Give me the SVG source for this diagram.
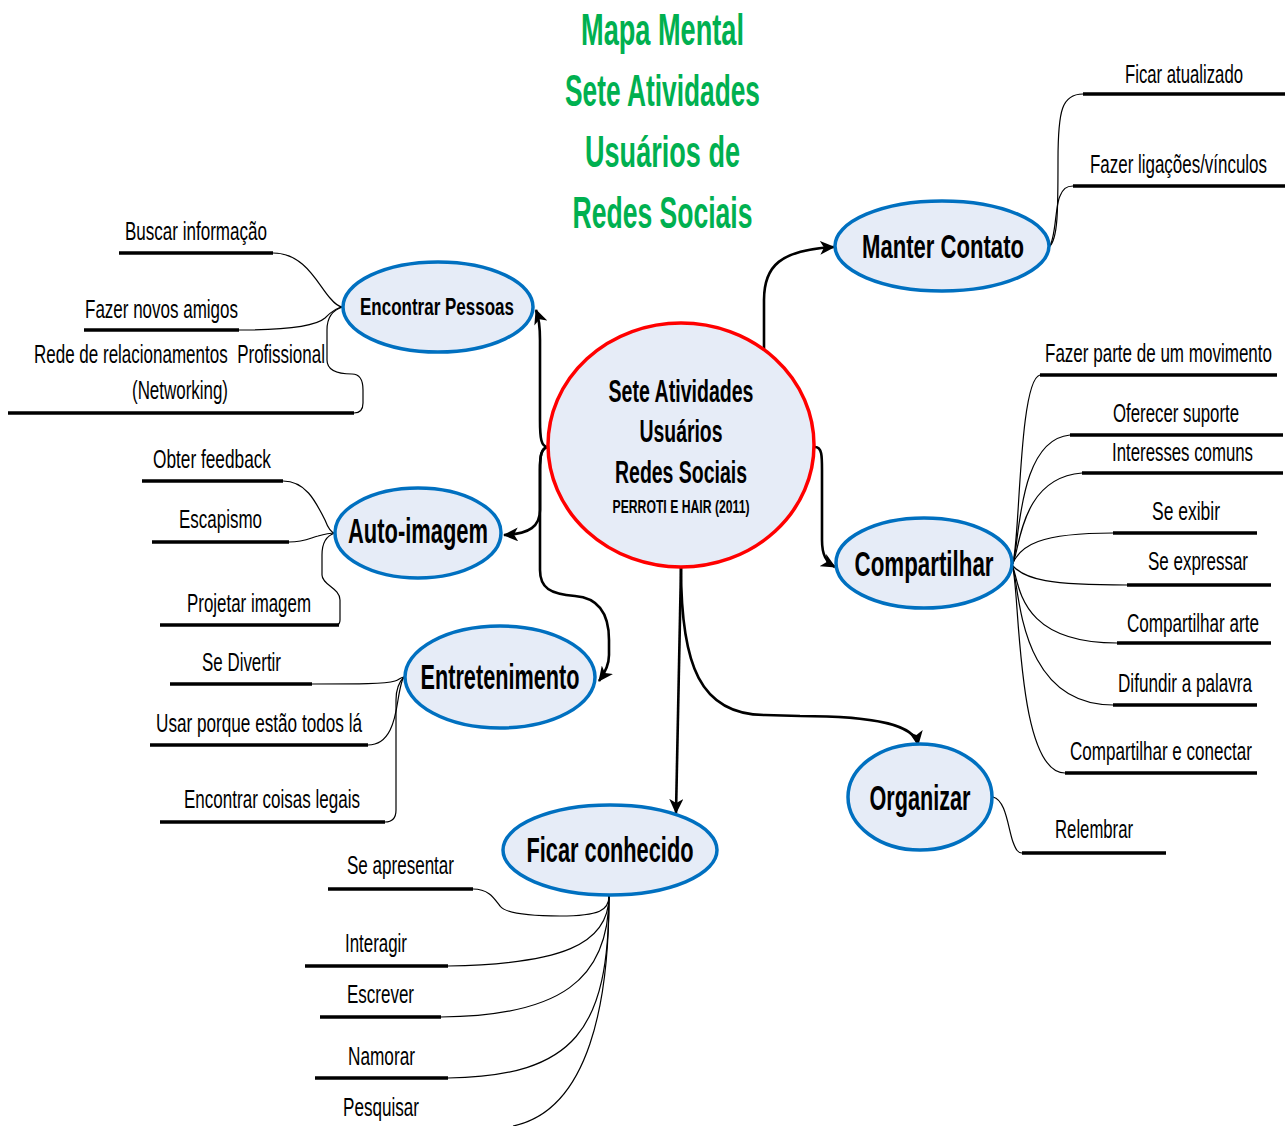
<svg xmlns="http://www.w3.org/2000/svg" width="1285" height="1126" viewBox="0 0 1285 1126">
  <defs>
    <style>
      .bg { fill: #ffffff; }
      .title { font-family: "Liberation Sans", Arial, sans-serif; font-weight: bold; font-size: 44px; fill: #00B050; }
      .hub { fill: #E6ECF7; stroke: #FF0000; stroke-width: 3.5; }
      .hubtxt { font-family: "Liberation Sans", Arial, sans-serif; font-weight: bold; fill: #000; }
      .topic { fill: #E6ECF7; stroke: #0070C0; stroke-width: 3.5; }
      .topictxt { font-family: "Liberation Sans", Arial, sans-serif; font-weight: bold; fill: #000; }
      .leaftxt { font-family: "Liberation Sans", Arial, sans-serif; font-size: 25px; fill: #000; white-space: pre; }
      .right { text-anchor: end; }
      .under { stroke: #000; stroke-width: 3.5; fill: none; }
      .main { stroke: #000; stroke-width: 2.6; fill: none; }
      .thin { stroke: #000; stroke-width: 1.2; fill: none; }
    </style>
    <marker id="arrow" markerUnits="userSpaceOnUse" markerWidth="16" markerHeight="14" refX="14" refY="7" orient="auto">
      <path d="M0,0 L15,7 L0,14 L4,7 z" fill="#000"/>
    </marker>
  </defs>

  <rect class="bg" x="0" y="0" width="1285" height="1126"/>

  <!-- heading -->
  <g id="title">
    <text class="title" x="662.5" y="45" text-anchor="middle" textLength="163" lengthAdjust="spacingAndGlyphs">Mapa Mental</text>
    <text class="title" x="662.5" y="106" text-anchor="middle" textLength="195" lengthAdjust="spacingAndGlyphs">Sete Atividades</text>
    <text class="title" x="662.5" y="167" text-anchor="middle" textLength="155" lengthAdjust="spacingAndGlyphs">Usuários de</text>
    <text class="title" x="662.5" y="228" text-anchor="middle" textLength="180" lengthAdjust="spacingAndGlyphs">Redes Sociais</text>
  </g>

  <!-- connectors -->
  <g id="connectors">
    <!-- hub to main topics -->
    <path class="main" marker-end="url(#arrow)" d="M548,447 C541,447 540,438 540,420 L540,340 C540,326 539,318 536,310"/>
    <path class="main" marker-end="url(#arrow)" d="M548,447 C541,448 540,456 540,470 L540,510 C540,526 530,534 504,535"/>
    <path class="main" marker-end="url(#arrow)" d="M548,447 C541,448 540,456 540,470 L540,570 C540,588 550,594 575,596 C600,598 609,615 609,640 L609,655 C609,665 605,673 599,681"/>
    <path class="main" marker-end="url(#arrow)" d="M764,349 L764,300 C764,266 780,250 834,247"/>
    <path class="main" marker-end="url(#arrow)" d="M815,447 C822,447 822,456 822,470 L822,540 C822,555 826,562 835,567"/>
    <path class="main" marker-end="url(#arrow)" d="M681,568 C681,665 700,715 765,715 L800,716 C880,716 915,726 918,745"/>
    <path class="main" marker-end="url(#arrow)" d="M681,568 L676,813"/>

    <!-- Encontrar Pessoas branches -->
    <path class="thin" d="M273,253 C305,253 318,285 330,298 C335,304 339,307 343,307"/>
    <path class="thin" d="M239,330 C290,330 316,326 325,318 C332,311 337,307 343,307"/>
    <path class="thin" d="M343,307 C332,310 327,318 327,330 L327,360 C327,372 340,374 352,374 C360,374 363,380 363,390 L363,403 C363,410 359,413 354,413"/>

    <!-- Auto-imagem branches -->
    <path class="thin" d="M283,481 C305,481 315,500 325,520 C328,528 332,533 335,533"/>
    <path class="thin" d="M289,542 C305,542 310,538 318,536 C325,534 330,533 335,533"/>
    <path class="thin" d="M335,533 C325,536 322,545 322,555 L322,575 C322,585 340,588 340,600 L340,620 C340,623 339,625 336,625"/>

    <!-- Entretenimento branches -->
    <path class="thin" d="M312,684 C360,684 385,684 395,681 C399,680 401,677 404,677"/>
    <path class="thin" d="M368,745 C390,745 395,720 398,700 C400,688 402,679 404,677"/>
    <path class="thin" d="M404,677 C398,683 396,690 396,700 L396,810 C396,818 392,822 385,822"/>

    <!-- Ficar conhecido branches -->
    <path class="thin" d="M473,889 C490,889 495,900 500,906 C506,914 530,916 560,916 C600,916 609,910 609,896"/>
    <path class="thin" d="M448,966 C560,964 609,945 609,896"/>
    <path class="thin" d="M441,1017 C560,1016 609,980 609,896"/>
    <path class="thin" d="M448,1078 C575,1076 609,1030 609,896"/>
    <path class="thin" d="M513,1126 C590,1110 609,1000 609,896"/>

    <!-- Organizar branch -->
    <path class="thin" d="M993,797 C1006,800 1008,828 1013,842 C1016,850 1018,853 1022,853"/>

    <!-- Manter Contato branches -->
    <path class="thin" d="M1049,247 C1058,240 1058,210 1058,160 C1058,110 1062,94 1083,94"/>
    <path class="thin" d="M1049,247 C1056,240 1055,205 1060,196 C1063,189 1066,186 1073,186"/>

    <!-- Compartilhar branches -->
    <path class="thin" d="M1012,565 C1020,555 1018,380 1040,375"/>
    <path class="thin" d="M1012,565 C1020,555 1015,440 1070,435"/>
    <path class="thin" d="M1012,565 C1020,555 1018,478 1082,473"/>
    <path class="thin" d="M1012,565 C1020,545 1040,533 1113,533"/>
    <path class="thin" d="M1012,565 C1025,580 1050,585 1127,585"/>
    <path class="thin" d="M1012,565 C1020,580 1015,643 1117,643"/>
    <path class="thin" d="M1012,565 C1020,580 1015,705 1113,705"/>
    <path class="thin" d="M1012,565 C1020,580 1015,773 1065,773"/>
  </g>

  <!-- central node -->
  <g id="hub">
    <ellipse class="hub" cx="681" cy="445" rx="133" ry="122"/>
    <text class="hubtxt" font-size="31" x="681" y="402" text-anchor="middle" textLength="145" lengthAdjust="spacingAndGlyphs">Sete Atividades</text>
    <text class="hubtxt" font-size="31" x="681" y="442" text-anchor="middle" textLength="83" lengthAdjust="spacingAndGlyphs">Usuários</text>
    <text class="hubtxt" font-size="31" x="681" y="483" text-anchor="middle" textLength="132" lengthAdjust="spacingAndGlyphs">Redes Sociais</text>
    <text class="hubtxt" font-size="18" x="681" y="513" text-anchor="middle" textLength="137" lengthAdjust="spacingAndGlyphs">PERROTI E HAIR (2011)</text>
  </g>

  <!-- main topics -->
  <g id="encontrar-pessoas">
    <ellipse class="topic" cx="438" cy="307" rx="95" ry="45"/>
    <text class="topictxt" font-size="24" x="437" y="315" text-anchor="middle" textLength="154" lengthAdjust="spacingAndGlyphs">Encontrar Pessoas</text>
  </g>
  <g id="auto-imagem">
    <ellipse class="topic" cx="418" cy="533" rx="83" ry="45"/>
    <text class="topictxt" font-size="35" x="418" y="543" text-anchor="middle" textLength="140" lengthAdjust="spacingAndGlyphs">Auto-imagem</text>
  </g>
  <g id="entretenimento">
    <ellipse class="topic" cx="500" cy="677" rx="95" ry="51"/>
    <text class="topictxt" font-size="35" x="500" y="689" text-anchor="middle" textLength="159" lengthAdjust="spacingAndGlyphs">Entretenimento</text>
  </g>
  <g id="ficar-conhecido">
    <ellipse class="topic" cx="610" cy="850" rx="107" ry="45"/>
    <text class="topictxt" font-size="35" x="610" y="862" text-anchor="middle" textLength="167" lengthAdjust="spacingAndGlyphs">Ficar conhecido</text>
  </g>
  <g id="manter-contato">
    <ellipse class="topic" cx="942" cy="246" rx="107" ry="45"/>
    <text class="topictxt" font-size="33" x="943" y="258" text-anchor="middle" textLength="162" lengthAdjust="spacingAndGlyphs">Manter Contato</text>
  </g>
  <g id="compartilhar">
    <ellipse class="topic" cx="924" cy="563" rx="88" ry="45"/>
    <text class="topictxt" font-size="35" x="924" y="576" text-anchor="middle" textLength="139" lengthAdjust="spacingAndGlyphs">Compartilhar</text>
  </g>
  <g id="organizar">
    <ellipse class="topic" cx="920" cy="797" rx="72" ry="53"/>
    <text class="topictxt" font-size="35" x="920" y="810" text-anchor="middle" textLength="101" lengthAdjust="spacingAndGlyphs">Organizar</text>
  </g>

  <!-- leaf items, left side -->
  <g id="buscar-informacao">
    <text class="leaftxt" x="125" y="240" textLength="142" lengthAdjust="spacingAndGlyphs">Buscar informação</text>
    <line class="under" x1="119" y1="253" x2="273" y2="253"/>
  </g>
  <g id="fazer-novos-amigos">
    <text class="leaftxt" x="85" y="318" textLength="153" lengthAdjust="spacingAndGlyphs">Fazer novos amigos</text>
    <line class="under" x1="84" y1="330" x2="239" y2="330"/>
  </g>
  <g id="rede-relacionamentos">
    <text class="leaftxt" x="34" y="363" textLength="291" lengthAdjust="spacingAndGlyphs">Rede de relacionamentos  Profissional</text>
    <text class="leaftxt" x="132" y="399" textLength="96" lengthAdjust="spacingAndGlyphs">(Networking)</text>
    <line class="under" x1="8" y1="413" x2="354" y2="413"/>
  </g>
  <g id="obter-feedback">
    <text class="leaftxt" x="153" y="468" textLength="118" lengthAdjust="spacingAndGlyphs">Obter feedback</text>
    <line class="under" x1="142" y1="481" x2="283" y2="481"/>
  </g>
  <g id="escapismo">
    <text class="leaftxt" x="179" y="528" textLength="83" lengthAdjust="spacingAndGlyphs">Escapismo</text>
    <line class="under" x1="152" y1="542" x2="289" y2="542"/>
  </g>
  <g id="projetar-imagem">
    <text class="leaftxt" x="187" y="612" textLength="124" lengthAdjust="spacingAndGlyphs">Projetar imagem</text>
    <line class="under" x1="160" y1="625" x2="339" y2="625"/>
  </g>
  <g id="se-divertir">
    <text class="leaftxt" x="202" y="671" textLength="79" lengthAdjust="spacingAndGlyphs">Se Divertir</text>
    <line class="under" x1="170" y1="684" x2="312" y2="684"/>
  </g>
  <g id="usar-porque">
    <text class="leaftxt" x="156" y="732" textLength="206" lengthAdjust="spacingAndGlyphs">Usar porque estão todos lá</text>
    <line class="under" x1="150" y1="745" x2="368" y2="745"/>
  </g>
  <g id="encontrar-coisas">
    <text class="leaftxt" x="184" y="808" textLength="176" lengthAdjust="spacingAndGlyphs">Encontrar coisas legais</text>
    <line class="under" x1="160" y1="822" x2="385" y2="822"/>
  </g>
  <g id="se-apresentar">
    <text class="leaftxt" x="347" y="874" textLength="107" lengthAdjust="spacingAndGlyphs">Se apresentar</text>
    <line class="under" x1="328" y1="889" x2="473" y2="889"/>
  </g>
  <g id="interagir">
    <text class="leaftxt" x="345" y="952" textLength="62" lengthAdjust="spacingAndGlyphs">Interagir</text>
    <line class="under" x1="305" y1="966" x2="448" y2="966"/>
  </g>
  <g id="escrever">
    <text class="leaftxt" x="347" y="1003" textLength="67" lengthAdjust="spacingAndGlyphs">Escrever</text>
    <line class="under" x1="320" y1="1017" x2="441" y2="1017"/>
  </g>
  <g id="namorar">
    <text class="leaftxt" x="348" y="1065" textLength="67" lengthAdjust="spacingAndGlyphs">Namorar</text>
    <line class="under" x1="315" y1="1078" x2="448" y2="1078"/>
  </g>
  <g id="pesquisar">
    <text class="leaftxt" x="343" y="1116" textLength="76" lengthAdjust="spacingAndGlyphs">Pesquisar</text>
  </g>

  <!-- leaf items, right side: condensed horizontally, anchored at their right end -->
  <g id="relembrar">
    <text class="leaftxt right" transform="translate(1133,838) scale(0.7,1)" textLength="111.4" lengthAdjust="spacingAndGlyphs">Relembrar</text>
    <line class="under" x1="1022" y1="853" x2="1166" y2="853"/>
  </g>
  <g id="ficar-atualizado">
    <text class="leaftxt right" transform="translate(1243,83) scale(0.7,1)" textLength="168.6" lengthAdjust="spacingAndGlyphs">Ficar atualizado</text>
    <line class="under" x1="1083" y1="94" x2="1285" y2="94"/>
  </g>
  <g id="fazer-ligacoes">
    <text class="leaftxt right" transform="translate(1267,173) scale(0.7,1)" textLength="252.9" lengthAdjust="spacingAndGlyphs">Fazer ligações/vínculos</text>
    <line class="under" x1="1073" y1="186" x2="1285" y2="186"/>
  </g>
  <g id="fazer-parte">
    <text class="leaftxt right" transform="translate(1272,362) scale(0.7,1)" textLength="324.3" lengthAdjust="spacingAndGlyphs">Fazer parte de um movimento</text>
    <line class="under" x1="1040" y1="375" x2="1277" y2="375"/>
  </g>
  <g id="oferecer-suporte">
    <text class="leaftxt right" transform="translate(1239,422) scale(0.7,1)" textLength="180" lengthAdjust="spacingAndGlyphs">Oferecer suporte</text>
    <line class="under" x1="1070" y1="435" x2="1283" y2="435"/>
  </g>
  <g id="interesses-comuns">
    <text class="leaftxt right" transform="translate(1253,461) scale(0.7,1)" textLength="201.4" lengthAdjust="spacingAndGlyphs">Interesses comuns</text>
    <line class="under" x1="1082" y1="473" x2="1283" y2="473"/>
  </g>
  <g id="se-exibir">
    <text class="leaftxt right" transform="translate(1220,520) scale(0.7,1)" textLength="97.1" lengthAdjust="spacingAndGlyphs">Se exibir</text>
    <line class="under" x1="1113" y1="533" x2="1257" y2="533"/>
  </g>
  <g id="se-expressar">
    <text class="leaftxt right" transform="translate(1248,570) scale(0.7,1)" textLength="142.9" lengthAdjust="spacingAndGlyphs">Se expressar</text>
    <line class="under" x1="1127" y1="585" x2="1271" y2="585"/>
  </g>
  <g id="compartilhar-arte">
    <text class="leaftxt right" transform="translate(1259,632) scale(0.7,1)" textLength="188.6" lengthAdjust="spacingAndGlyphs">Compartilhar arte</text>
    <line class="under" x1="1117" y1="643" x2="1271" y2="643"/>
  </g>
  <g id="difundir-palavra">
    <text class="leaftxt right" transform="translate(1252,692) scale(0.7,1)" textLength="191.4" lengthAdjust="spacingAndGlyphs">Difundir a palavra</text>
    <line class="under" x1="1113" y1="705" x2="1257" y2="705"/>
  </g>
  <g id="compartilhar-conectar">
    <text class="leaftxt right" transform="translate(1252,760) scale(0.7,1)" textLength="260" lengthAdjust="spacingAndGlyphs">Compartilhar e conectar</text>
    <line class="under" x1="1065" y1="773" x2="1257" y2="773"/>
  </g>
</svg>
